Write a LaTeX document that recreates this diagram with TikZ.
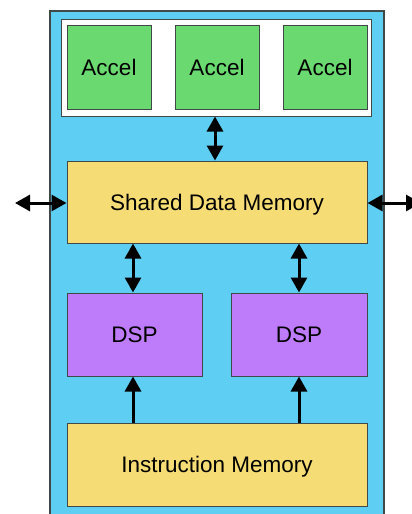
\documentclass[tikz,border=0pt]{standalone}
\usepackage{fontspec}
\setmainfont{Liberation Sans}
\usetikzlibrary{arrows.meta,calc}
\definecolor{chipblue}{HTML}{5ECEF3}
\definecolor{accgreen}{HTML}{6AD96F}
\definecolor{memyellow}{HTML}{F5DC75}
\definecolor{dsppurple}{HTML}{BE7BFA}
\definecolor{edge}{HTML}{404848}
\tikzset{
  blk/.style={draw=edge, line width=1pt, inner sep=0pt, font=\fontsize{22.5}{26}\selectfont, text depth=0pt},
  accbox/.style={blk, fill=accgreen, minimum width=84pt, minimum height=84pt},
  membox/.style={blk, fill=memyellow, minimum width=300pt, minimum height=82pt},
  dspbox/.style={blk, fill=dsppurple, minimum width=135pt, minimum height=83pt},
  conn/.style={line width=3pt, -{Triangle[length=15pt,width=16pt]}},
  dconn/.style={line width=3pt, {Triangle[length=15pt,width=16pt]}-{Triangle[length=15pt,width=16pt]}}
}
\begin{document}
\begin{tikzpicture}[x=1pt,y=-1pt]
\useasboundingbox (0,0) rectangle (412,514);
\clip (0,0) rectangle (412,514);
\draw[draw=edge, line width=1.2pt, fill=chipblue] (50,11) rectangle (384,530);
\node[draw=edge, line width=1pt, fill=white, inner sep=0pt, minimum width=310pt, minimum height=96.5pt] (accgrp) at (216,67.75) {};
\node[accbox] (acc1) at (109,67) {Accel};
\node[accbox] (acc2) at (217,67) {Accel};
\node[accbox] (acc3) at (325,67) {Accel};
\node[membox] (sdm) at (217,202) {Shared Data Memory};
\node[dspbox] (dsp1) at (134.5,334.5) {DSP};
\node[dspbox, minimum width=136pt] (dsp2) at (299,334.5) {DSP};
\node[membox, minimum height=83pt] (im) at (217,464.5) {Instruction Memory};
\coordinate (lft) at (15,203);
\coordinate (rgt) at (421,203);
\draw[dconn] ($(accgrp.south)+(-1,0)$) -- ($(sdm.north)+(-2,0)$);
\draw[dconn] (lft) -- (lft -| sdm.west);
\draw[dconn] (rgt) -- (rgt -| sdm.east);
\draw[dconn] ($(sdm.south -| dsp1)+(-1.5,0)$) -- ($(dsp1.north)+(-1.5,0)$);
\draw[dconn] (sdm.south -| dsp2) -- (dsp2.north);
\draw[conn] ($(im.north -| dsp1)+(-1.5,0)$) -- ($(dsp1.south)+(-1.5,0)$);
\draw[conn] (im.north -| dsp2) -- (dsp2.south);
\end{tikzpicture}
\end{document}
